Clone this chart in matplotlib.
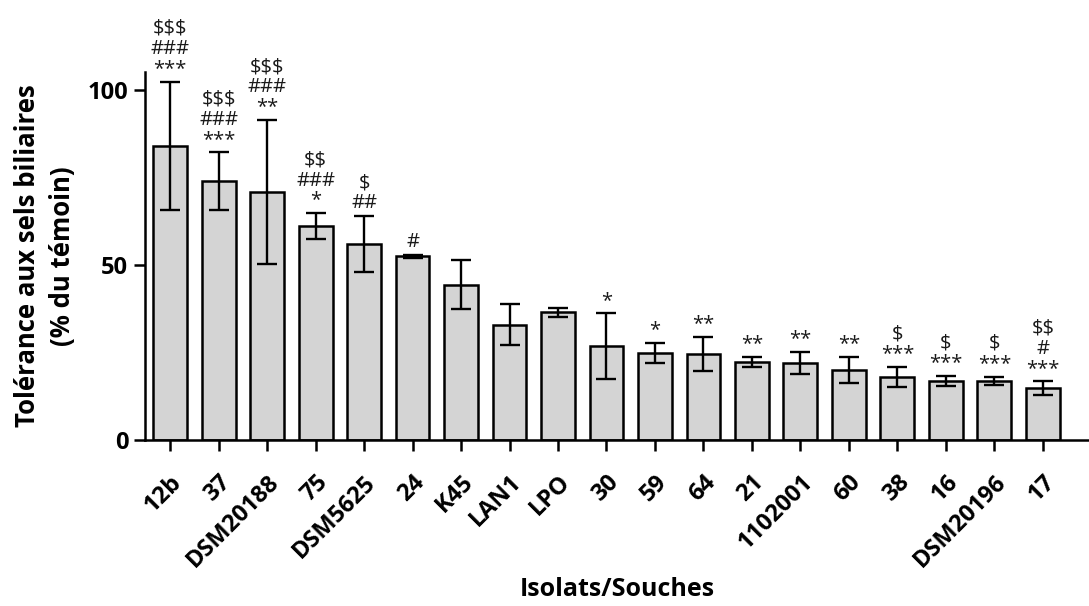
import numpy as np
import matplotlib.pyplot as plt

souches = ['12b', '37', 'DSM20188', '75', 'DSM5625', '24', 'K45', 'LAN1', 'LPO',
           '30', '59', '64', '21', '1102001', '60', '38', '16', 'DSM20196', '17']
tolerance = [84.0, 73.8, 70.7, 61.1, 55.9, 52.4, 44.3, 32.9, 36.5,
             26.7, 24.9, 24.6, 22.2, 21.9, 20.0, 17.9, 16.9, 16.9, 14.8]
erreur = [18.3, 8.3, 20.6, 3.6, 8.0, 0.5, 7.0, 5.9, 1.3,
          9.4, 2.8, 4.9, 1.4, 3.2, 3.6, 2.9, 1.4, 1.2, 1.9]
signif = ['$$$\n###\n***', '$$$\n###\n***', '$$$\n###\n**', '$$\n###\n*', '$\n##', '#',
          '', '', '', '*', '*', '**', '**', '**', '**',
          '$\n***', '$\n***', '$\n***', '$$\n#\n***']

plt.rcParams['font.family'] = ['Open Sans', 'DejaVu Sans']

fig = plt.figure(figsize=(10.89, 6.06), dpi=100)
ax = fig.add_axes([0.133, 0.274, 0.867, 0.607])

x = np.arange(len(souches))
ax.bar(x, tolerance, width=0.7, color='#d4d4d4', edgecolor='black', linewidth=1.8, zorder=2)
ax.errorbar(x, tolerance, yerr=erreur, fmt='none', ecolor='black', elinewidth=1.7,
            capsize=7.5, capthick=1.7, zorder=3)

# étoiles / dièses / dollars au-dessus des barres d'erreur
for xi, v, e, s in zip(x, tolerance, erreur, signif):
    if s:
        ax.annotate(s, (xi, v + e), xytext=(0, 2), textcoords='offset points',
                    ha='center', va='bottom', fontsize=14.5, linespacing=1.0,
                    color='#1a1a1a', annotation_clip=False, parse_math=False)

ax.set_xlim(-0.52, 18.95)
ax.set_ylim(0, 105)
ax.set_yticks([0, 50, 100])
ax.set_xticks(x)
ax.set_xticklabels(souches, rotation=45, ha='right', rotation_mode='anchor',
                   fontsize=17, fontweight='bold')
for lab in ax.get_yticklabels():
    lab.set_fontsize(17)
    lab.set_fontweight('bold')

ax.spines['top'].set_visible(False)
ax.spines['right'].set_visible(False)
ax.spines['left'].set_linewidth(1.8)
ax.spines['bottom'].set_linewidth(1.8)
ax.tick_params(axis='both', length=8, width=1.8, direction='out')
ax.tick_params(axis='x', pad=14)
ax.tick_params(axis='y', pad=4)

ax.set_ylabel('Tolérance aux sels biliaires\n(% du témoin)', fontsize=18.5,
              fontweight='bold', labelpad=8, linespacing=1.4)
ax.set_xlabel('Isolats/Souches', fontsize=18, fontweight='bold', labelpad=3)

fig.savefig('out.png', dpi=100)
